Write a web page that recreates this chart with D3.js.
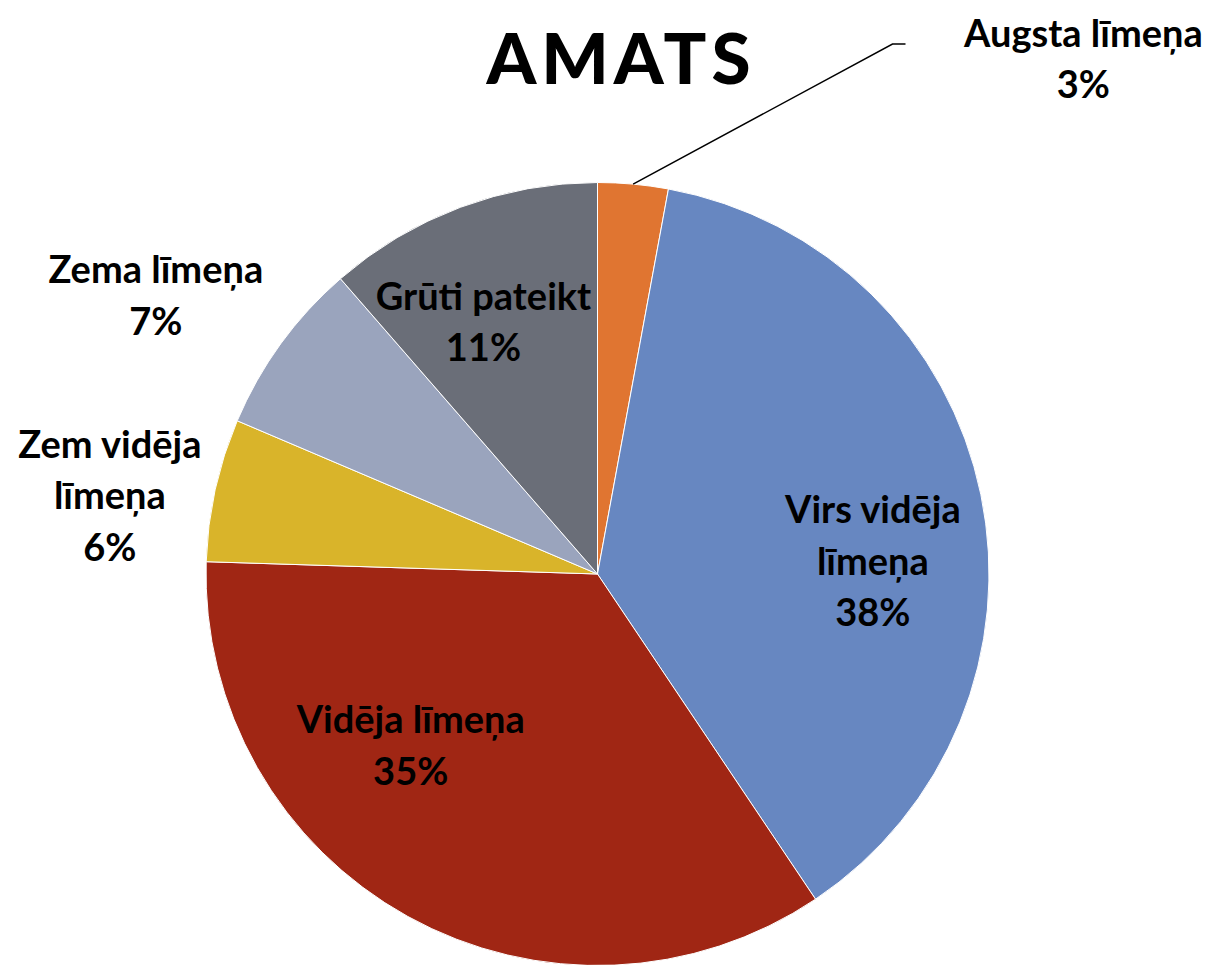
<!DOCTYPE html>
<html>
<head>
<meta charset="utf-8">
<script src="https://cdn.jsdelivr.net/npm/d3@7"></script>
<style>
  body { margin: 0; background: #fff; }
  svg text { font-family: Lato, "Open Sans", sans-serif; font-weight: 700; fill: #000; }
</style>
</head>
<body>
<div id="chart"></div>
<script>
// data
var categories = ["Augsta līmeņa", "Virs vidēja līmeņa", "Vidēja līmeņa", "Zem vidēja līmeņa", "Zema līmeņa", "Grūti pateikt"];
var shares = [2.9, 37.7, 34.9, 5.9, 7.2, 11.4];
var colors = ["#E07531", "#6787C1", "#A02614", "#D9B42A", "#9AA4BD", "#6A6E78"];

// how each label is split into lines
var labelLines = [
  ["Augsta līmeņa"],
  ["Virs vidēja", "līmeņa"],
  ["Vidēja līmeņa"],
  ["Zem vidēja", "līmeņa"],
  ["Zema līmeņa"],
  ["Grūti pateikt"]
];

var width = 1216, height = 965;
var cx = 597.5, cy = 574, radius = 391.5;
var lineH = 51.5;

var svg = d3.select("#chart").append("svg")
  .attr("width", width)
  .attr("height", height);

svg.append("text")
  .attr("x", 621)
  .attr("y", 84)
  .attr("text-anchor", "middle")
  .style("font-size", "71px")
  .style("font-weight", 900)
  .style("letter-spacing", "5px")
  .text("AMATS");

var pie = d3.pie().sort(null).value(d => d);
var arcs = pie(shares);

var arc = d3.arc().innerRadius(0).outerRadius(radius);
var labelArc = d3.arc().innerRadius(radius * 0.7).outerRadius(radius * 0.7);

var g = svg.append("g").attr("transform", `translate(${cx},${cy})`);

g.selectAll("path.slice")
  .data(arcs)
  .enter()
  .append("path")
  .attr("class", "slice")
  .attr("d", arc)
  .attr("fill", (d, i) => colors[i])
  .attr("stroke", "#fff")
  .attr("stroke-width", 1);

// nudges from the inner centroid, like Excel's best fit placement
var nudge = [
  [461, -242],
  [7, 43],
  [-54, -68],
  [-220, -19],
  [-220, -117],
  [-18, 5]
];

arcs.forEach((d, i) => {
  var c = labelArc.centroid(d);
  var lines = labelLines[i].concat([Math.round(shares[i]) + "%"]);
  var x = c[0] + nudge[i][0];
  var y0 = c[1] + nudge[i][1] - (lines.length - 1) * lineH / 2;
  var t = g.append("text")
    .attr("text-anchor", "middle")
    .style("font-size", "38px");
  lines.forEach((s, k) => {
    t.append("tspan")
      .attr("x", x)
      .attr("y", y0 + k * lineH)
      .attr("dy", "0.35em")
      .text(s);
  });
});

// leader line for the small top slice
var first = arcs[0];
var mid = (first.startAngle + first.endAngle) / 2;
var p0 = [Math.sin(mid) * radius, -Math.cos(mid) * radius];
g.append("polyline")
  .attr("points", [p0, [295, -530], [308, -530]].map(p => p.join(",")).join(" "))
  .attr("fill", "none")
  .attr("stroke", "#000")
  .attr("stroke-width", 1.5);
</script>
</body>
</html>
